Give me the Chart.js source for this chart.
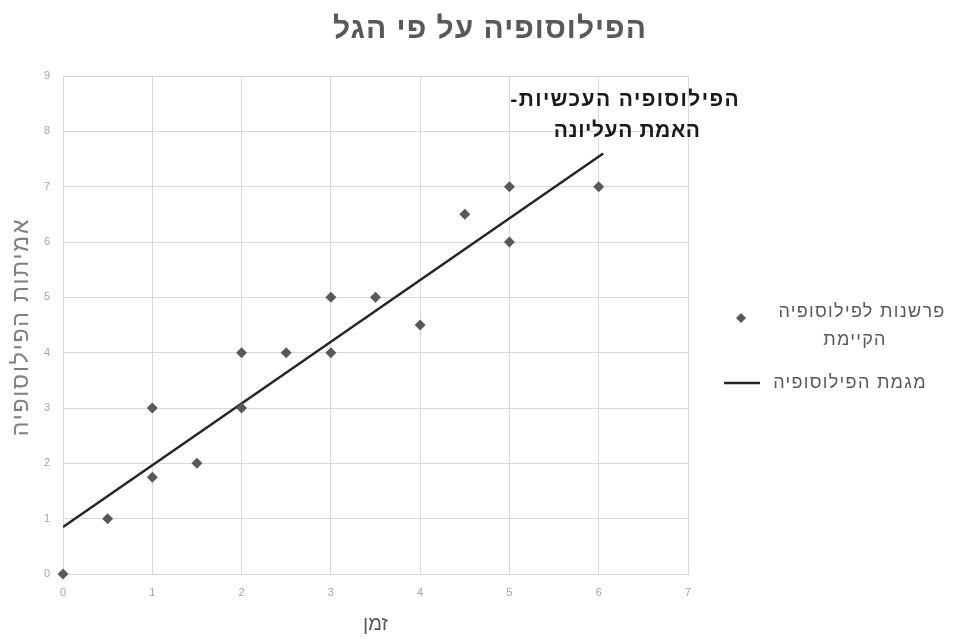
<!DOCTYPE html>
<html>
<head>
<meta charset="utf-8">
<script src="https://cdn.jsdelivr.net/npm/chart.js@4.4.0/dist/chart.umd.min.js"></script>
<style>
  html, body { margin: 0; padding: 0; background: #ffffff; }
  #wrap { width: 955px; height: 639px; position: relative; }
</style>
</head>
<body>
<div id="wrap"><canvas id="c"></canvas></div>
<script>
// ---- data ----
const chartTitle = "הפילוסופיה על פי הגל";
const xAxisTitle = "זמן";
const yAxisTitle = "אמיתות הפילוסופיה";
const seriesPointsName = ["פרשנות לפילוסופיה", "הקיימת"];
const seriesTrendName = "מגמת הפילוסופיה";
const annotationLines = ["הפילוסופיה העכשיות-", "האמת העליונה"];

const timeValues = [0, 0.5, 1, 1, 1.5, 2, 2, 2.5, 3, 3, 3.5, 4, 4.5, 5, 5, 6];
const truthValues = [0, 1, 1.75, 3, 2, 3, 4, 4, 4, 5, 5, 4.5, 6.5, 6, 7, 7];
const trendX = [0, 6.05];
const trendY = [0.85, 7.6];
const xTicks = [0, 1, 2, 3, 4, 5, 6, 7];
const yTicks = [0, 1, 2, 3, 4, 5, 6, 7, 8, 9];

const pointColor = "#595959";
const lineColor = "#262626";
const gridColor = "#d9d9d9";
const tickColor = "#a6a6a6";
const textColor = "#595959";
const FONT = "'Liberation Sans', 'DejaVu Sans', sans-serif";

const pointData = timeValues.map((x, i) => ({ x: x, y: truthValues[i] }));
const trendData = trendX.map((x, i) => ({ x: x, y: trendY[i] }));

function drawText(ctx, txt, x, y, font, color, spacing) {
  ctx.save();
  ctx.direction = "rtl";
  ctx.fillStyle = color;
  ctx.font = font;
  if ("letterSpacing" in ctx) ctx.letterSpacing = spacing + "px";
  ctx.textAlign = "center";
  ctx.textBaseline = "middle";
  ctx.fillText(txt, x, y);
  ctx.restore();
}

const extrasPlugin = {
  id: "extras",
  afterDraw(chart) {
    const ctx = chart.ctx;
    const xs = chart.scales.x, ys = chart.scales.y;
    const area = chart.chartArea;
    // title
    drawText(ctx, chartTitle, 490, 30, "bold 30px " + FONT, textColor, 1);

    // y axis title (rotated)
    ctx.save();
    ctx.translate(22, (area.top + area.bottom) / 2 + 2);
    ctx.rotate(-Math.PI / 2);
    drawText(ctx, yAxisTitle, 0, 0, "23px " + FONT, "#7f7f7f", 1.8);
    ctx.restore();

    // annotation near the end of the trend line
    const ex = xs.getPixelForValue(trendX[trendX.length - 1]);
    const ey = ys.getPixelForValue(trendY[trendY.length - 1]);
    drawText(ctx, annotationLines[0], ex + 22, ey - 53, "bold 21px " + FONT, "#1a1a1a", 1.4);
    drawText(ctx, annotationLines[1], ex + 24, ey - 22, "bold 21px " + FONT, "#1a1a1a", 0.6);

    // legend
    const lf = "18px " + FONT;
    drawText(ctx, seriesPointsName[0], 862, 312, lf, textColor, 1.3);
    drawText(ctx, seriesPointsName[1], 855, 340, lf, textColor, 1.3);
    drawText(ctx, seriesTrendName, 850, 383, lf, textColor, 1.3);
    ctx.save();
    // diamond marker
    ctx.fillStyle = pointColor;
    ctx.beginPath();
    ctx.moveTo(741, 313); ctx.lineTo(746, 318); ctx.lineTo(741, 323); ctx.lineTo(736, 318);
    ctx.closePath(); ctx.fill();
    // line sample
    ctx.strokeStyle = lineColor;
    ctx.lineWidth = 2.5;
    ctx.beginPath(); ctx.moveTo(724, 383); ctx.lineTo(760, 383); ctx.stroke();
    ctx.restore();
  }
};

new Chart(document.getElementById("c"), {
  type: "scatter",
  data: {
    datasets: [
      {
        label: seriesPointsName.join(" "),
        data: pointData,
        pointStyle: "rectRot",
        pointRadius: 5.5,
        pointHoverRadius: 5.5,
        backgroundColor: pointColor,
        borderColor: pointColor,
        borderWidth: 0,
        showLine: false,
        clip: false
      },
      {
        label: seriesTrendName,
        data: trendData,
        showLine: true,
        pointRadius: 0,
        borderColor: lineColor,
        borderWidth: 2.5,
        fill: false
      }
    ]
  },
  options: {
    responsive: true,
    maintainAspectRatio: false,
    devicePixelRatio: 1,
    animation: false,
    layout: { padding: { left: 0, right: 267, top: 76, bottom: 0 } },
    plugins: {
      legend: { display: false },
      tooltip: { enabled: false },
      title: { display: false }
    },
    scales: {
      x: {
        type: "linear",
        min: 0, max: 7,
        afterBuildTicks: (s) => { s.ticks = xTicks.map(v => ({ value: v })); },
        afterFit: (s) => { s.height = 65; },
        grid: { color: gridColor, lineWidth: 1, drawTicks: false },
        border: { color: gridColor },
        ticks: { color: tickColor, padding: 12, font: { size: 11, family: FONT } },
        title: {
          display: true, text: xAxisTitle, color: textColor,
          font: { size: 20, family: FONT },
          padding: { top: 0, bottom: 3 }
        }
      },
      y: {
        type: "linear",
        min: 0, max: 9,
        afterBuildTicks: (s) => { s.ticks = yTicks.map(v => ({ value: v })); },
        afterFit: (s) => { s.width = 63; },
        grid: { color: gridColor, lineWidth: 1, drawTicks: false },
        border: { color: gridColor },
        ticks: { color: tickColor, padding: 13, font: { size: 11, family: FONT } },
        title: { display: false }
      }
    }
  },
  plugins: [extrasPlugin]
});
</script>
</body>
</html>
